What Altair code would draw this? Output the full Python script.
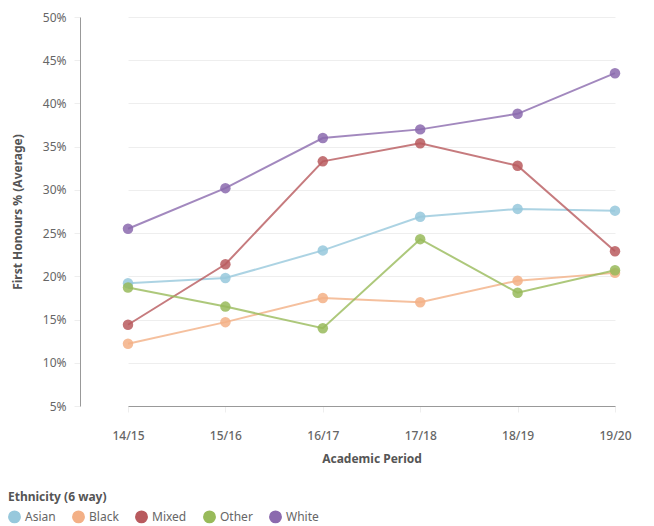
import altair as alt
import pandas as pd

periods = ["14/15", "15/16", "16/17", "17/18", "18/19", "19/20"]
groups = ["Asian", "Black", "Mixed", "Other", "White"]
colors = ["#97c8dc", "#f3b086", "#b85a5e", "#98ba5a", "#8b6aae"]

asian = [19.2, 19.8, 23.0, 26.9, 27.8, 27.6]
black = [12.2, 14.7, 17.5, 17.0, 19.5, 20.4]
mixed = [14.4, 21.4, 33.3, 35.4, 32.8, 22.9]
other = [18.7, 16.5, 14.0, 24.3, 18.1, 20.7]
white = [25.5, 30.2, 36.0, 37.0, 38.8, 43.5]

series = dict(zip(groups, [asian, black, mixed, other, white]))
rows = [
    {"period": p, "group": g, "value": v / 100}
    for g, vals in series.items()
    for p, v in zip(periods, vals)
]
df = pd.DataFrame(rows)

font = "Noto Sans"

x = alt.X(
    "period:N",
    sort=periods,
    title="Academic Period",
    scale=alt.Scale(type="point", range=[48, 535], padding=0),
    axis=alt.Axis(
        labelAngle=0,
        labelColor="#666",
        labelFontSize=12,
        labelFontWeight=500,
        labelPadding=18,
        titleColor="#555",
        titleFontSize=12,
        titleFontWeight="bold",
        titlePadding=12,
        domainColor="#999",
        tickColor="#eee",
        tickSize=6,
        gridColor="#eee",
    ),
)
y = alt.Y(
    "value:Q",
    title="First Honours % (Average)",
    scale=alt.Scale(domain=[0.05, 0.5], nice=False),
    axis=alt.Axis(
        format=".0%",
        values=[0.05, 0.10, 0.15, 0.20, 0.25, 0.30, 0.35, 0.40, 0.45, 0.50],
        labelColor="#666",
        labelFontSize=12,
        labelPadding=8,
        titleColor="#555",
        titleFontSize=12,
        titleFontWeight="bold",
        titlePadding=18,
        domainColor="#999",
        tickColor="#eee",
        tickSize=6,
        gridColor="#eee",
    ),
)
color = alt.Color(
    "group:N",
    title="Ethnicity (6 way)",
    scale=alt.Scale(domain=groups, range=colors),
    legend=alt.Legend(
        orient="none",
        legendX=-72,
        legendY=475,
        direction="horizontal",
        symbolType="circle",
        symbolSize=130,
        symbolOpacity=1,
        titleColor="#555",
        titleFontSize=12,
        titleFontWeight="bold",
        labelColor="#666",
        labelFontSize=12,
        columnPadding=13,
        titlePadding=6,
    ),
)

lines = alt.Chart(df).mark_line(strokeWidth=2, opacity=0.8).encode(x=x, y=y, color=color)
points = alt.Chart(df).mark_circle(size=110, opacity=0.85).encode(x=x, y=y, color=color)

chart = (
    alt.layer(lines, points)
    .properties(
        width=574,
        height=389,
        autosize=alt.AutoSizeParams(type="none"),
        padding={"left": 80, "top": 17, "right": 0, "bottom": 120},
    )
    .configure(font=font)
    .configure_view(stroke=None)
)

chart.save("out.html", embed_options={"renderer": "svg", "actions": False})
